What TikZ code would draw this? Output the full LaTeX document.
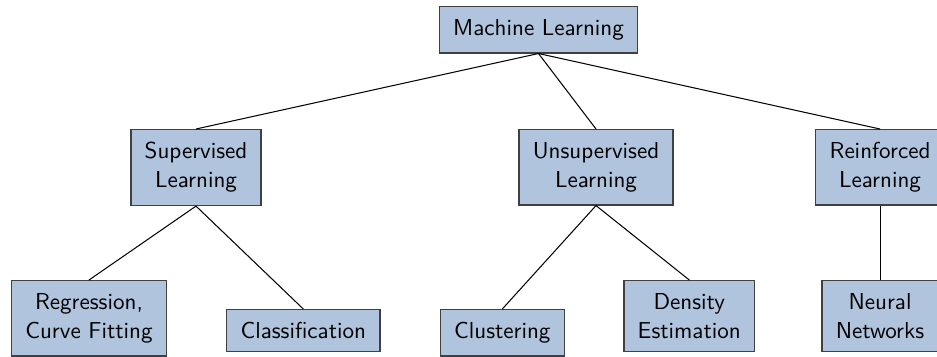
\documentclass[tikz,border=0pt]{standalone}
\usepackage{fontspec}
\definecolor{steel}{HTML}{B0C4DE}
\begin{document}
\begin{tikzpicture}[x=0.4335pt, y=-0.4335pt,
  box/.style={draw=black!75, line width=0.6pt, fill=steel, font=\sffamily,
    align=center, inner xsep=6pt, inner ysep=5.5pt, anchor=north},
  link/.style={draw=black, line width=0.45pt}]
\useasboundingbox (0,0) rectangle (937,356);
% root
\node[box] (ml) at (538.5,6) {Machine Learning};
% learning paradigms
\node[box] (sup) at (196,129) {Supervised\\[0.6pt]Learning};
\node[box] (uns) at (596,129) {Unsupervised\\[0.6pt]Learning};
\node[box] (rei) at (880,129) {Reinforced\\[0.6pt]Learning};
% tasks and methods
\node[box] (reg) at (89,280) {Regression,\\[0.6pt]Curve Fitting};
\node[box] (cla) at (303.3,309) {Classification};
\node[box] (clu) at (502.3,309) {Clustering};
\node[box] (den) at (689.3,280) {Density\\[0.6pt]Estimation};
\node[box] (neu) at (880,280) {Neural\\[0.6pt]Networks};
% connectors
\draw[link] (ml.south) -- (sup.north);
\draw[link] (ml.south) -- (uns.north);
\draw[link] (ml.south) -- (rei.north);
\draw[link] (sup.south) -- (reg.north);
\draw[link] (sup.south) -- (cla.north);
\draw[link] (uns.south) -- (clu.north);
\draw[link] (uns.south) -- (den.north);
\draw[link] (rei.south) -- (neu.north);
\end{tikzpicture}
\end{document}
